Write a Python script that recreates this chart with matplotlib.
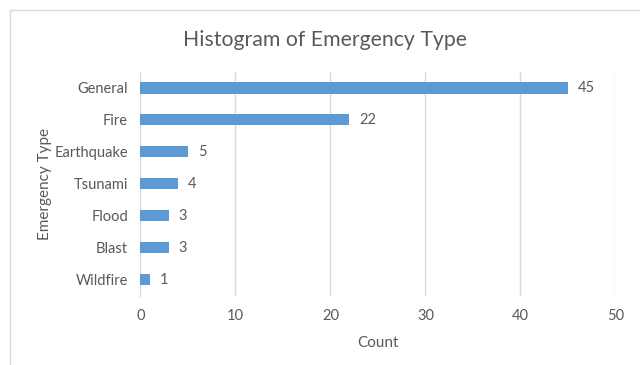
import matplotlib
matplotlib.use('Agg')
import matplotlib.pyplot as plt
from matplotlib.patches import Rectangle

# data
categories = ['General', 'Fire', 'Earthquake', 'Tsunami', 'Flood', 'Blast', 'Wildfire']
counts = [45, 22, 5, 4, 3, 3, 1]
x_ticks = [0, 10, 20, 30, 40, 50]

bar_color = '#5B9BD5'
text_color = '#595959'
grid_color = '#D9D9D9'

plt.rcParams['font.family'] = ['Lato', 'DejaVu Sans']

fig = plt.figure(figsize=(6.4, 3.65), dpi=100)
ax = fig.add_axes([0.2195, 0.1904, 0.7422, 0.6123])

# outer chart frame (cropped on right / bottom like the screenshot)
fig.patches.append(Rectangle((10 / 640, -0.1), 1.2, 1 - 10 / 365 + 0.1,
                             transform=fig.transFigure, fill=False,
                             edgecolor=grid_color, linewidth=1.0))

ypos = list(range(len(categories)))
ax.barh(ypos, counts, height=0.35, color=bar_color, zorder=3)

for y, v in zip(ypos, counts):
    ax.annotate(str(v), (v, y), xytext=(7, 0), textcoords='offset points',
                va='center', ha='left', fontsize=10.5, color=text_color)

ax.set_xlim(0, 50)
ax.set_ylim(len(categories) - 0.5, -0.5)
ax.set_xticks(x_ticks)
ax.set_yticks(ypos)
ax.set_yticklabels(categories)
ax.tick_params(axis='both', length=0, labelsize=10.5, labelcolor=text_color)
ax.tick_params(axis='y', pad=9)
ax.tick_params(axis='x', pad=10)

ax.grid(axis='x', color=grid_color, linewidth=1.0, zorder=0)
ax.set_axisbelow(True)
for s in ['top', 'right', 'bottom']:
    ax.spines[s].set_visible(False)
ax.spines['left'].set_color(grid_color)

ax.set_xlabel('Count', fontsize=11, color=text_color, labelpad=9)
ax.set_ylabel('Emergency Type', fontsize=11, color=text_color, labelpad=2)
fig.text(0.508, 0.89, 'Histogram of Emergency Type', ha='center', va='center',
         fontsize=15.3, color=text_color)

fig.savefig('out.png', dpi=100)
